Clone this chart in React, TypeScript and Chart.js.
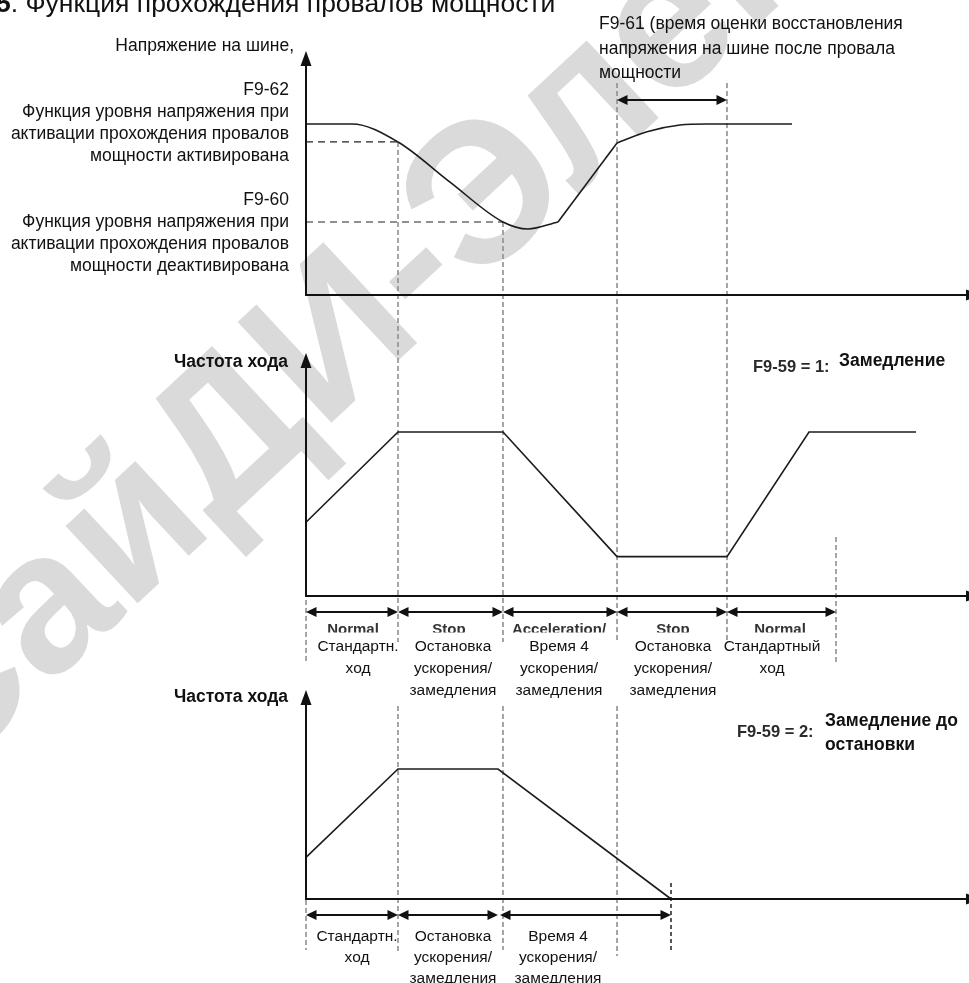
import React, { useEffect, useRef } from "react";
import { Chart, registerables } from "chart.js";

Chart.register(...registerables);

// ================= DATA =================
// Phase boundaries on the time axis (diagram time units)
const phaseTimes = [0, 9.2, 19.7, 31.1, 42.1, 53.0];
// Mode 2: time when the running frequency reaches zero
const stopTime2 = 36.5;

// Bus voltage (diagram units, nominal level = 100)
const voltDropT = [0, 4.6, 9.2, 14.4, 19.7, 22.2, 25.2];
const voltDropV = [100, 100, 89.5, 66, 42.7, 38.6, 42.7];
const voltRiseT = [25.2, 31.1];
const voltRiseV = [42.7, 88.9];
const voltRecT = [31.1, 34.1, 37.4, 40.1, 48.6];
const voltRecV = [88.9, 95.5, 99.4, 100, 100];
const levelF962 = 89.5;
const levelF960 = 42.7;

// Running frequency, F9-59 = 1 (diagram units, rated = 50)
const freq1T = [0, 9.2, 19.7, 31.1, 42.1, 50.3, 61.0];
const freq1V = [22.5, 50, 50, 12, 12, 50, 50];
// Running frequency, F9-59 = 2
const freq2T = [0, 9.2, 19.2, 36.5];
const freq2V = [16, 50, 50, 0];

// ================= TEXT =================
const titleNum = "5";
const titleText = ". Функция прохождения провалов мощности";
const voltAxisLabel = "Напряжение на шине,";
const f962Label = ["F9-62", "Функция уровня напряжения при", "активации прохождения провалов", "мощности активирована"];
const f960Label = ["F9-60", "Функция уровня напряжения при", "активации прохождения провалов", "мощности деактивирована"];
const f961Label = ["F9-61 (время оценки восстановления", "напряжения на шине после провала", "мощности"];
const freqAxisLabel = "Частота хода";
const mode1Code = "F9-59 = 1:";
const mode1Name = ["Замедление"];
const mode2Code = "F9-59 = 2:";
const mode2Name = ["Замедление до", "остановки"];
const phaseLabelsEn1 = ["Normal", "Stop", "Acceleration/", "Stop", "Normal"];
const phaseLabels1 = [
  ["Стандартн.", "ход"],
  ["Остановка", "ускорения/", "замедления"],
  ["Время 4", "ускорения/", "замедления"],
  ["Остановка", "ускорения/", "замедления"],
  ["Стандартный", "ход"],
];
const phaseLabels2 = [
  ["Стандартн.", "ход"],
  ["Остановка", "ускорения/", "замедления"],
  ["Время 4", "ускорения/", "замедления"],
];
const watermarkText = "СайДИ-Электро";

// ================= LAYOUT =================
const W = 969;
const H = 983;
const AXIS_PX = 306;
const PX_PER_T = 10;
const FONT = '"Liberation Sans", Arial, sans-serif';

function yBounds(zeroPx: number, refPx: number, refVal: number) {
  const ppu = (zeroPx - refPx) / refVal;
  return { min: (zeroPx - H) / ppu, max: zeroPx / ppu };
}
const yVB = yBounds(295, 124, 100);
const yF1B = yBounds(596, 432, 50);
const yF2B = yBounds(899, 769, 50);

const pts = (T: number[], V: number[]) => T.map((t, i) => ({ x: t, y: V[i] }));

function drawText(ctx: CanvasRenderingContext2D, s: string, x: number, y: number, font: string, align: CanvasTextAlign, color = "#111") {
  ctx.font = font;
  ctx.textAlign = align;
  ctx.textBaseline = "alphabetic";
  ctx.fillStyle = color;
  ctx.fillText(s, x, y);
}

function vline(ctx: CanvasRenderingContext2D, x: number, y1: number, y2: number, color: string, dash: number[], width: number) {
  ctx.save();
  ctx.strokeStyle = color;
  ctx.lineWidth = width;
  ctx.setLineDash(dash);
  ctx.beginPath();
  ctx.moveTo(x, y1);
  ctx.lineTo(x, y2);
  ctx.stroke();
  ctx.restore();
}

function dblArrow(ctx: CanvasRenderingContext2D, x1: number, x2: number, y: number) {
  const L = 10.5, hw = 5;
  ctx.save();
  ctx.strokeStyle = "#111";
  ctx.fillStyle = "#111";
  ctx.lineWidth = 1.8;
  ctx.beginPath();
  ctx.moveTo(x1 + L - 1, y);
  ctx.lineTo(x2 - L + 1, y);
  ctx.stroke();
  ctx.beginPath();
  ctx.moveTo(x1, y);
  ctx.lineTo(x1 + L, y - hw);
  ctx.lineTo(x1 + L, y + hw);
  ctx.closePath();
  ctx.fill();
  ctx.beginPath();
  ctx.moveTo(x2, y);
  ctx.lineTo(x2 - L, y - hw);
  ctx.lineTo(x2 - L, y + hw);
  ctx.closePath();
  ctx.fill();
  ctx.restore();
}

const diagramPlugin = {
  id: "diagram",
  beforeDraw(chart: any) {
    const ctx: CanvasRenderingContext2D = chart.ctx;
    ctx.save();
    ctx.fillStyle = "#fff";
    ctx.fillRect(0, 0, W, H);
    // watermark
    ctx.translate(232, 440);
    ctx.rotate((-43 * Math.PI) / 180);
    ctx.font = `bold 200px ${FONT}`;
    const pre = ctx.measureText("Сай").width;
    const d = ctx.measureText("Д").width;
    ctx.fillStyle = "#dadada";
    ctx.textAlign = "left";
    ctx.textBaseline = "middle";
    ctx.fillText(watermarkText, -(pre + d / 2), 0);
    ctx.restore();
  },
  beforeDatasetsDraw(chart: any) {
    const ctx: CanvasRenderingContext2D = chart.ctx;
    const X = (t: number) => chart.scales.x.getPixelForValue(t);
    const YV = (v: number) => chart.scales.yV.getPixelForValue(v);
    const xs = phaseTimes.map(X);
    const gray = "#8f8f8f";
    const gd = [5, 3];
    vline(ctx, xs[0], 584, 662, gray, gd, 1.6);
    vline(ctx, xs[1], YV(levelF962), 642, gray, gd, 1.6);
    vline(ctx, xs[2], YV(levelF960), 642, gray, gd, 1.6);
    vline(ctx, xs[3], 83, 642, gray, gd, 1.6);
    vline(ctx, xs[4], 83, 640, gray, gd, 1.6);
    vline(ctx, xs[5], 537, 664, gray, gd, 1.6);
    vline(ctx, xs[0], 884, 950, gray, gd, 1.6);
    vline(ctx, xs[1], 706, 952, gray, gd, 1.6);
    vline(ctx, xs[2], 706, 950, gray, gd, 1.6);
    vline(ctx, xs[3], 706, 956, gray, gd, 1.6);
    vline(ctx, X(stopTime2), 883, 952, "#222", [4, 3], 1.5);
  },
  afterDatasetsDraw(chart: any) {
    const ctx: CanvasRenderingContext2D = chart.ctx;
    const X = (t: number) => chart.scales.x.getPixelForValue(t);
    const x0 = X(0);
    const panels = [
      { axis: "yV", top: 51 },
      { axis: "yF1", top: 353 },
      { axis: "yF2", top: 690 },
    ];
    ctx.save();
    ctx.strokeStyle = "#111";
    ctx.fillStyle = "#111";
    ctx.lineWidth = 2;
    for (const p of panels) {
      const zy = chart.scales[p.axis].getPixelForValue(0);
      ctx.beginPath();
      ctx.moveTo(x0, zy + 1);
      ctx.lineTo(x0, p.top + 12);
      ctx.stroke();
      ctx.beginPath();
      ctx.moveTo(x0, p.top);
      ctx.lineTo(x0 - 5.5, p.top + 15);
      ctx.lineTo(x0 + 5.5, p.top + 15);
      ctx.closePath();
      ctx.fill();
      ctx.beginPath();
      ctx.moveTo(x0 - 1, zy);
      ctx.lineTo(W + 5, zy);
      ctx.stroke();
      ctx.beginPath();
      ctx.moveTo(981, zy);
      ctx.lineTo(966, zy - 5.5);
      ctx.lineTo(966, zy + 5.5);
      ctx.closePath();
      ctx.fill();
    }
    ctx.restore();
    const xs = phaseTimes.map(X);
    for (let i = 0; i < 5; i++) dblArrow(ctx, xs[i], xs[i + 1], 612);
    dblArrow(ctx, xs[0], xs[1], 915);
    dblArrow(ctx, xs[1], xs[2] - 5, 915);
    dblArrow(ctx, xs[2] - 3, X(stopTime2), 915);
    dblArrow(ctx, xs[3], xs[4], 100);
  },
  afterDraw(chart: any) {
    const ctx: CanvasRenderingContext2D = chart.ctx;
    ctx.save();
    const reg = `17.5px ${FONT}`;
    const bold = `bold 17.5px ${FONT}`;
    // title
    ctx.font = `bold 26.5px ${FONT}`;
    const wNum = ctx.measureText(titleNum).width;
    drawText(ctx, titleNum, -4, 12, `bold 26.5px ${FONT}`, "left");
    drawText(ctx, titleText, -4 + wNum, 12, `26.5px ${FONT}`, "left");
    // voltage panel labels
    drawText(ctx, voltAxisLabel, 294, 51, reg, "right");
    const f962Y = [95, 117, 139, 161];
    f962Label.forEach((s, i) => drawText(ctx, s, 289, f962Y[i], reg, "right"));
    const f960Y = [205, 227, 249, 271];
    f960Label.forEach((s, i) => drawText(ctx, s, 289, f960Y[i], reg, "right"));
    const f961Y = [29, 54, 78];
    f961Label.forEach((s, i) => drawText(ctx, s, 599, f961Y[i], reg, "left"));
    // frequency panels
    drawText(ctx, freqAxisLabel, 288, 367, bold, "right");
    drawText(ctx, freqAxisLabel, 288, 702, bold, "right");
    drawText(ctx, mode1Code, 753, 372, `bold 16.5px ${FONT}`, "left", "#2a2a2a");
    drawText(ctx, mode1Name[0], 839, 366, bold, "left");
    drawText(ctx, mode2Code, 737, 737, `bold 16.5px ${FONT}`, "left", "#2a2a2a");
    mode2Name.forEach((s, i) => drawText(ctx, s, 825, 726 + i * 24, bold, "left"));
    // clipped english phase names
    const enX = [353, 449, 559, 673, 780];
    ctx.save();
    ctx.beginPath();
    ctx.rect(0, 0, W, 632.5);
    ctx.clip();
    phaseLabelsEn1.forEach((s, i) => drawText(ctx, s, enX[i], 634, `bold 15px ${FONT}`, "center", "#333"));
    ctx.restore();
    const lab = `15.5px ${FONT}`;
    const lx1 = [358, 453, 559, 673, 772];
    phaseLabels1.forEach((lines, i) =>
      lines.forEach((s, j) => drawText(ctx, s, lx1[i], 650.5 + j * 22, lab, "center"))
    );
    const lx2 = [357, 453, 558];
    phaseLabels2.forEach((lines, i) =>
      lines.forEach((s, j) => drawText(ctx, s, lx2[i], 940.5 + j * 21, lab, "center"))
    );
    ctx.restore();
  },
};

export default function App() {
  const ref = useRef<HTMLCanvasElement>(null);
  useEffect(() => {
    document.body.style.margin = "0";
    const line = "#1c1c1c";
    const base = { pointRadius: 0, borderColor: line, borderWidth: 1.6, fill: false, xAxisID: "x" };
    const chart = new Chart(ref.current!, {
      type: "line",
      data: {
        datasets: [
          { ...base, label: "Напряжение: провал", data: pts(voltDropT, voltDropV), yAxisID: "yV", tension: 0.4, cubicInterpolationMode: "monotone" },
          { ...base, label: "Напряжение: подъём", data: pts(voltRiseT, voltRiseV), yAxisID: "yV", tension: 0 },
          { ...base, label: "Напряжение: восстановление", data: pts(voltRecT, voltRecV), yAxisID: "yV", tension: 0.4, cubicInterpolationMode: "monotone" },
          { ...base, label: "F9-62", data: pts([0, phaseTimes[1]], [levelF962, levelF962]), yAxisID: "yV", borderWidth: 1.2, borderDash: [7, 5], borderColor: "#222" },
          { ...base, label: "F9-60", data: pts([0, phaseTimes[2]], [levelF960, levelF960]), yAxisID: "yV", borderWidth: 1.2, borderDash: [7, 5], borderColor: "#222" },
          { ...base, label: "Частота (F9-59 = 1)", data: pts(freq1T, freq1V), yAxisID: "yF1", tension: 0 },
          { ...base, label: "Частота (F9-59 = 2)", data: pts(freq2T, freq2V), yAxisID: "yF2", tension: 0 },
        ] as any,
      },
      options: {
        responsive: false,
        animation: false,
        events: [],
        layout: { padding: 0 },
        plugins: { legend: { display: false }, tooltip: { enabled: false } },
        scales: {
          x: { type: "linear", display: false, min: -AXIS_PX / PX_PER_T, max: (W - AXIS_PX) / PX_PER_T },
          yV: { type: "linear", display: false, min: yVB.min, max: yVB.max },
          yF1: { type: "linear", display: false, min: yF1B.min, max: yF1B.max },
          yF2: { type: "linear", display: false, min: yF2B.min, max: yF2B.max },
        },
      } as any,
      plugins: [diagramPlugin as any],
    });
    return () => chart.destroy();
  }, []);
  return (
    <div style={{ position: "absolute", left: 0, top: 0, width: W, height: H, background: "#fff" }}>
      <canvas ref={ref} width={W} height={H} style={{ display: "block", width: W, height: H }} />
    </div>
  );
}
